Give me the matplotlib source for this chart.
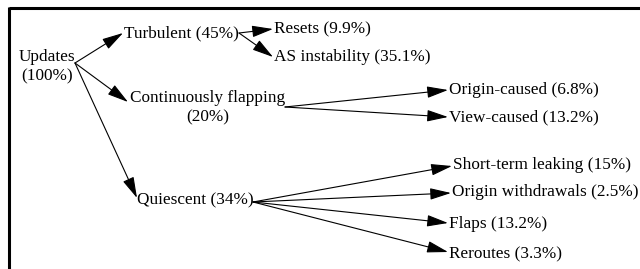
import matplotlib
matplotlib.use("Agg")
import matplotlib.pyplot as plt

# ---- data ----
names = ["Updates", "Turbulent", "Continuously flapping", "Quiescent",
         "Resets", "AS instability", "Origin-caused", "View-caused",
         "Short-term leaking", "Origin withdrawals", "Flaps", "Reroutes"]
pcts = ["100%", "45%", "20%", "34%", "9.9%", "35.1%", "6.8%", "13.2%",
        "15%", "2.5%", "13.2%", "3.3%"]
parents = [None, 0, 0, 0, 1, 1, 2, 2, 3, 3, 3, 3]
two_line = [True, False, True, False, False, False, False, False,
            False, False, False, False]

# ---- layout (pixel coordinates, y downward) ----
text_pos = [(47, 67), (124, 33), (208, 108), (137, 200),
            (274, 29), (274, 57), (449, 90), (449, 117),
            (453, 165), (452, 192), (449, 224), (449, 254)]
text_ha = ["center", "left", "center", "left"] + ["left"] * 8
in_anchor = [None, (123, 33), (128, 102), (137, 198),
             (273, 29), (273, 57), (448, 90), (448, 117),
             (452, 166), (451, 193), (448, 223), (448, 252)]
out_anchor = {0: (75, 63), 1: (239, 33), 2: (285, 107), 3: (253, 202)}

W, H = 640, 269
fig = plt.figure(figsize=(W / 100, H / 100), dpi=100)
ax = fig.add_axes([0, 0, 1, 1])
ax.set_xlim(0, W)
ax.set_ylim(H, 0)
ax.axis("off")

font = dict(family=["Liberation Serif", "DejaVu Serif"], fontsize=12.4, color="black")

for i, (n, p) in enumerate(zip(names, pcts)):
    sep = "\n" if two_line[i] else " "
    x, y = text_pos[i]
    ax.text(x, y, f"{n}{sep}({p})", ha=text_ha[i], va="center",
            multialignment="center", linespacing=1.3, **font)

for i, par in enumerate(parents):
    if par is None:
        continue
    ax.annotate("", xy=in_anchor[i], xytext=out_anchor[par],
                arrowprops=dict(arrowstyle="-|>,head_length=1.3,head_width=0.36",
                                mutation_scale=10, lw=0.8, color="black",
                                shrinkA=0, shrinkB=0))

# partial frame (top and left)
ax.plot([9, W], [8, 8], color="black", lw=2.2, solid_capstyle="butt")
ax.plot([9, 9], [7, H], color="black", lw=2.2, solid_capstyle="butt")

fig.savefig("out.png", dpi=100)
